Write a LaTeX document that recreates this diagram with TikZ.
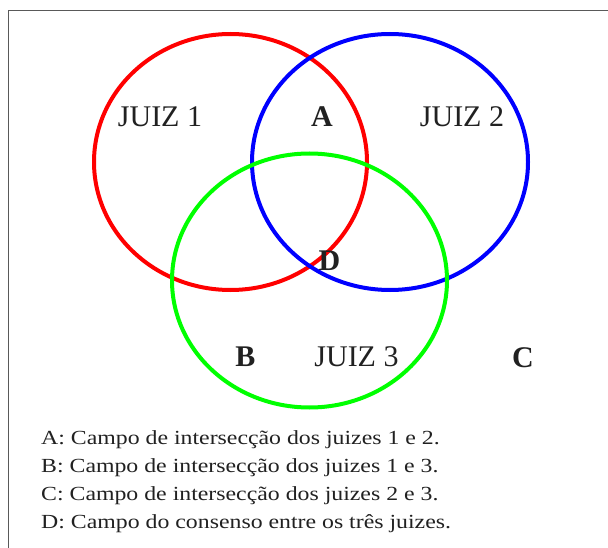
\documentclass[tikz,border=0pt]{standalone}
\usepackage{fontspec}
\usepackage{graphicx}
\setmainfont{Liberation Serif}
\newcommand{\legstretch}[1]{\scalebox{1.19}[1]{#1}}
\begin{document}
\begin{tikzpicture}[x=1pt,y=-1pt,
  set/.style={line width=4pt},
  lab/.style={anchor=base,inner sep=0pt,text=black!87,font=\fontsize{30}{36}\selectfont},
  blab/.style={lab,font=\fontsize{30}{36}\selectfont\bfseries},
  leg/.style={anchor=base west,inner sep=0pt,text=black!87,font=\fontsize{20}{24}\selectfont}]
\useasboundingbox (0,0) rectangle (608,548);
\draw[line width=1.4pt,black!65] (8.7,548) -- (8.7,10.7) -- (608,10.7);
\draw[set,red] (230.5,162) ellipse [x radius=136.5, y radius=128];
\draw[set,blue] (390,162) ellipse [x radius=138, y radius=128];
\draw[set,green] (309.5,280.5) ellipse [x radius=137.5, y radius=127];
\node[lab] (j1) at (160,127) {JUIZ 1};
\node[blab] (a) at (322,127) {A};
\node[lab] (j2) at (462,127) {JUIZ 2};
\node[blab] (d) at (329.5,271) {D};
\node[blab] (b) at (245.5,366.5) {B};
\node[lab] (j3) at (356.5,366.5) {JUIZ 3};
\node[blab] (c) at (523,367) {C};
\node[leg] (la) at (41,444) {\legstretch{A: Campo de intersecção dos juizes 1 e 2.}};
\node[leg] (lb) at (41,472) {\legstretch{B: Campo de intersecção dos juizes 1 e 3.}};
\node[leg] (lc) at (41,500) {\legstretch{C: Campo de intersecção dos juizes 2 e 3.}};
\node[leg] (ld) at (41,528) {\legstretch{D: Campo do consenso entre os três juizes.}};
\end{tikzpicture}
\end{document}
